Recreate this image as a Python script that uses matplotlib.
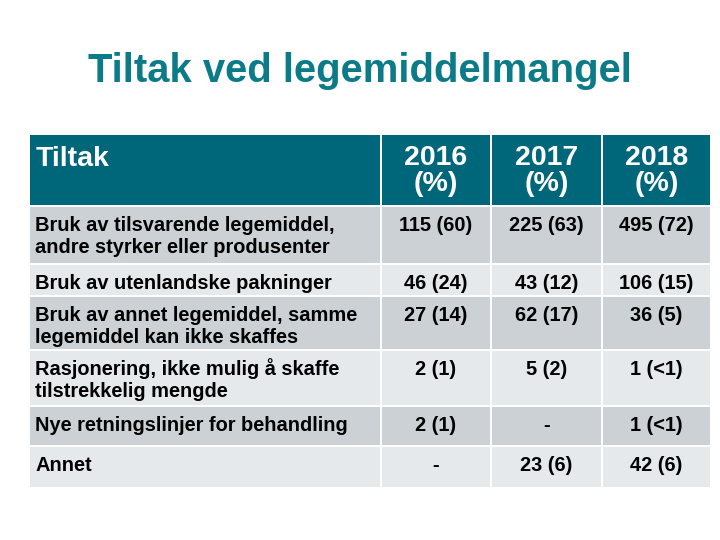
import matplotlib
matplotlib.use('Agg')
import matplotlib.pyplot as plt
from matplotlib.patches import Rectangle

plt.rcParams['font.family'] = ['Liberation Sans', 'DejaVu Sans']

# table content
title = 'Tiltak ved legemiddelmangel'
first_header = 'Tiltak'
years = ['2016', '2017', '2018']
tiltak = [
    'Bruk av tilsvarende legemiddel,\nandre styrker eller produsenter',
    'Bruk av utenlandske pakninger',
    'Bruk av annet legemiddel, samme\nlegemiddel kan ikke skaffes',
    'Rasjonering, ikke mulig å skaffe\ntilstrekkelig mengde',
    'Nye retningslinjer for behandling',
    'Annet',
]
vals_2016 = ['115 (60)', '46 (24)', '27 (14)', '2 (1)', '2 (1)', '-']
vals_2017 = ['225 (63)', '43 (12)', '62 (17)', '5 (2)', '-', '23 (6)']
vals_2018 = ['495 (72)', '106 (15)', '36 (5)', '1 (<1)', '1 (<1)', '42 (6)']

# layout in pixels (origin top-left)
col_edges = [29, 381, 491, 602, 711]
header_box = (135, 205)
row_boxes = [(207, 263), (265, 295), (297, 349), (351, 405), (407, 445), (447, 487)]

teal = '#00677a'
title_teal = '#0b7b88'
dark_row = '#cbd1d5'
light_row = '#e6e9eb'

fig = plt.figure(figsize=(7.2, 5.4), dpi=100)
ax = fig.add_axes([0, 0, 1, 1])
ax.set_xlim(0, 720)
ax.set_ylim(540, 0)
ax.axis('off')

ax.text(360, 82, title, ha='center', va='baseline', fontsize=28.8,
        fontweight='bold', color=title_teal)


def cell(x0, x1, y0, y1, color):
    ax.add_patch(Rectangle((x0 + 1, y0), x1 - x0 - 2, y1 - y0,
                           facecolor=color, edgecolor='none'))


# header
for c in range(4):
    cell(col_edges[c], col_edges[c + 1], header_box[0], header_box[1], teal)
ax.text(36, header_box[0] + 31, first_header, ha='left', va='baseline',
        fontsize=20.5, fontweight='bold', color='white')
for c, yr in enumerate(years):
    xc = (col_edges[c + 1] + col_edges[c + 2]) / 2
    ax.text(xc, header_box[0] + 30, yr, ha='center', va='baseline',
            fontsize=20.5, fontweight='bold', color='white')
    ax.text(xc, header_box[0] + 56, '(%)', ha='center', va='baseline',
            fontsize=20.5, fontweight='bold', color='white')

# body
columns = [vals_2016, vals_2017, vals_2018]
for r, (y0, y1) in enumerate(row_boxes):
    color = dark_row if r % 2 == 0 else light_row
    for c in range(4):
        cell(col_edges[c], col_edges[c + 1], y0, y1, color)
    for k, line in enumerate(tiltak[r].split('\n')):
        ax.text(35, y0 + 24 + 22 * k, line, ha='left', va='baseline',
                fontsize=14.4, fontweight='bold', color='black')
    for c, col in enumerate(columns):
        xc = (col_edges[c + 1] + col_edges[c + 2]) / 2
        ax.text(xc, y0 + 24, col[r], ha='center', va='baseline',
                fontsize=14.4, fontweight='bold', color='black')

fig.savefig('out.png', dpi=100)
